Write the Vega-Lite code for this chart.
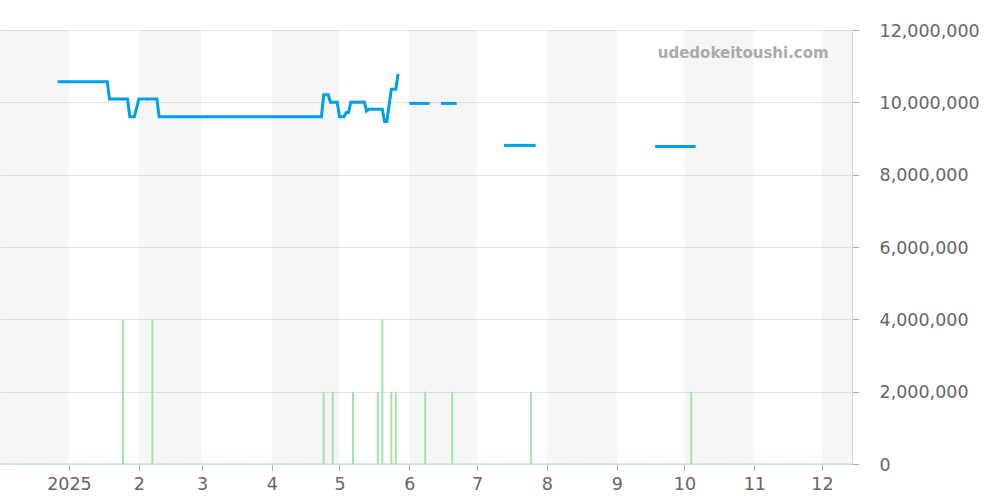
{
  "$schema": "https://vega.github.io/schema/vega-lite/v6.json",
  "description": "Price line over volume bars by day for 2025, with alternating month bands",
  "width": 852,
  "height": 434,
  "autosize": {"type": "none"},
  "padding": {"left": 0, "top": 30, "right": 148, "bottom": 36},
  "background": "white",
  "view": {"stroke": null},
  "config": {"font": "DejaVu Sans"},
  "datasets": {
    "bands": [
      {"start": "2024-11-25", "end": "2025-01-01"},
      {"start": "2025-02-01", "end": "2025-03-01"},
      {"start": "2025-04-01", "end": "2025-05-01"},
      {"start": "2025-06-01", "end": "2025-07-01"},
      {"start": "2025-08-01", "end": "2025-09-01"},
      {"start": "2025-10-01", "end": "2025-11-01"},
      {"start": "2025-12-01", "end": "2025-12-20"}
    ],
    "price": [
      {"date": "2024-12-27", "price": 10570000, "segment": 1},
      {"date": "2025-01-18", "price": 10570000, "segment": 1},
      {"date": "2025-01-19", "price": 10090000, "segment": 1},
      {"date": "2025-01-27", "price": 10090000, "segment": 1},
      {"date": "2025-01-28", "price": 9600000, "segment": 1},
      {"date": "2025-01-30", "price": 9600000, "segment": 1},
      {"date": "2025-02-01", "price": 10090000, "segment": 1},
      {"date": "2025-02-09", "price": 10090000, "segment": 1},
      {"date": "2025-02-10", "price": 9600000, "segment": 1},
      {"date": "2025-04-23", "price": 9600000, "segment": 1},
      {"date": "2025-04-24", "price": 10210000, "segment": 1},
      {"date": "2025-04-26", "price": 10210000, "segment": 1},
      {"date": "2025-04-27", "price": 10000000, "segment": 1},
      {"date": "2025-04-30", "price": 10000000, "segment": 1},
      {"date": "2025-05-01", "price": 9600000, "segment": 1},
      {"date": "2025-05-03", "price": 9600000, "segment": 1},
      {"date": "2025-05-04", "price": 9720000, "segment": 1},
      {"date": "2025-05-05", "price": 9720000, "segment": 1},
      {"date": "2025-05-06", "price": 10000000, "segment": 1},
      {"date": "2025-05-12", "price": 10010000, "segment": 1},
      {"date": "2025-05-13", "price": 9760000, "segment": 1},
      {"date": "2025-05-14", "price": 9810000, "segment": 1},
      {"date": "2025-05-20", "price": 9810000, "segment": 1},
      {"date": "2025-05-21", "price": 9470000, "segment": 1},
      {"date": "2025-05-22", "price": 9470000, "segment": 1},
      {"date": "2025-05-24", "price": 10360000, "segment": 1},
      {"date": "2025-05-26", "price": 10360000, "segment": 1},
      {"date": "2025-05-27", "price": 10790000, "segment": 1},
      {"date": "2025-06-01", "price": 9970000, "segment": 2},
      {"date": "2025-06-10", "price": 9970000, "segment": 2},
      {"date": "2025-06-15", "price": 9970000, "segment": 3},
      {"date": "2025-06-22", "price": 9970000, "segment": 3},
      {"date": "2025-07-13", "price": 8810000, "segment": 4},
      {"date": "2025-07-27", "price": 8810000, "segment": 4},
      {"date": "2025-09-18", "price": 8780000, "segment": 5},
      {"date": "2025-10-06", "price": 8780000, "segment": 5}
    ],
    "volume": [
      {"date": "2025-01-25", "volume": 4000000},
      {"date": "2025-02-07", "volume": 4000000},
      {"date": "2025-04-24", "volume": 2000000},
      {"date": "2025-04-28", "volume": 2000000},
      {"date": "2025-05-07", "volume": 2000000},
      {"date": "2025-05-18", "volume": 2000000},
      {"date": "2025-05-20", "volume": 4000000},
      {"date": "2025-05-24", "volume": 2000000},
      {"date": "2025-05-26", "volume": 2000000},
      {"date": "2025-06-08", "volume": 2000000},
      {"date": "2025-06-20", "volume": 2000000},
      {"date": "2025-07-25", "volume": 2000000},
      {"date": "2025-10-04", "volume": 2000000}
    ],
    "zero": [
      {"date": "2024-12-01", "volume": 0},
      {"date": "2025-12-15", "volume": 0}
    ],
    "site": [
      {"date": "2025-12-04", "price": 11370000, "label": "udedokeitoushi.com"}
    ]
  },
  "encoding": {
    "x": {
      "field": "date",
      "type": "temporal",
      "scale": {
        "type": "utc",
        "domain": [
          {"year": 2024, "month": 12, "date": 1, "hours": 10, "utc": true},
          {"year": 2025, "month": 12, "date": 14, "hours": 8, "utc": true}
        ]
      },
      "axis": {
        "title": null,
        "grid": false,
        "tickCount": {"interval": "month", "step": 1},
        "labelExpr": "utcmonth(datum.value) == 0 ? utcyear(datum.value) : utcmonth(datum.value) + 1",
        "labelFontSize": 17.5,
        "labelColor": "#666666",
        "labelPadding": 5,
        "labelFlush": false,
        "labelOverlap": false,
        "tickColor": "#aaaaaa",
        "tickSize": 6,
        "domainColor": "#cfe3d3"
      }
    }
  },
  "layer": [
    {
      "data": {"name": "bands"},
      "mark": {"type": "rect", "color": "#000000", "opacity": 0.036, "clip": true},
      "encoding": {
        "x": {"field": "start", "type": "temporal"},
        "x2": {"field": "end"}
      }
    },
    {
      "data": {"name": "zero"},
      "mark": {"type": "line", "color": "#a5e2b2", "strokeWidth": 1.5, "strokeDash": [1.5, 1], "clip": true},
      "encoding": {
        "y": {"field": "volume", "type": "quantitative"}
      }
    },
    {
      "data": {"name": "volume"},
      "mark": {"type": "rule", "color": "#a5e2b2", "strokeWidth": 2},
      "encoding": {
        "y": {"field": "volume", "type": "quantitative"},
        "y2": {"datum": 0}
      }
    },
    {
      "data": {"name": "price"},
      "mark": {"type": "line", "color": "#00a0e9", "strokeWidth": 3},
      "encoding": {
        "y": {
          "field": "price",
          "type": "quantitative",
          "scale": {"domain": [0, 12000000], "nice": false},
          "axis": {
            "title": null,
            "orient": "right",
            "values": [0, 2000000, 4000000, 6000000, 8000000, 10000000, 12000000],
            "format": ",d",
            "grid": true,
            "gridColor": "#e6e6e6",
            "labelFontSize": 17.5,
            "labelColor": "#666666",
            "labelPadding": 20,
            "labelOffset": 1,
            "tickColor": "#aaaaaa",
            "tickSize": 7,
            "domainColor": "#d5d5d5"
          }
        },
        "detail": {"field": "segment", "type": "nominal"}
      }
    },
    {
      "data": {"name": "site"},
      "mark": {"type": "text", "align": "right", "baseline": "middle", "fontWeight": "bold", "fontSize": 15, "color": "#aaaaaa"},
      "encoding": {
        "y": {"field": "price", "type": "quantitative"},
        "text": {"field": "label"}
      }
    }
  ]
}
